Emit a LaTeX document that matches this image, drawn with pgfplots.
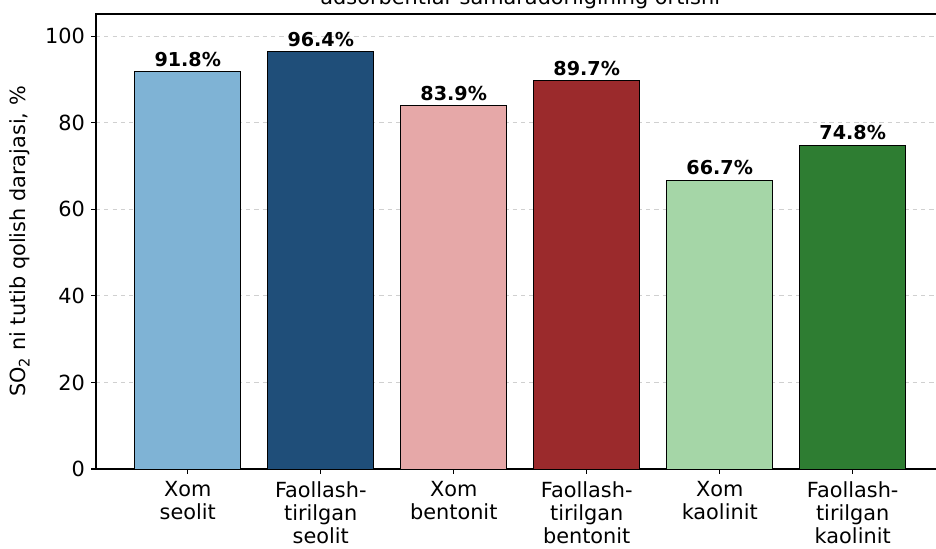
\documentclass[border=0pt]{standalone}
\usepackage{fontspec}
\setmainfont{DejaVu Sans}
\usepackage{pgfplots}
\pgfplotsset{compat=1.18}
\definecolor{c1}{HTML}{7FB3D5}
\definecolor{c2}{HTML}{1F4E79}
\definecolor{c3}{HTML}{E6A8A8}
\definecolor{c4}{HTML}{9B2A2C}
\definecolor{c5}{HTML}{A5D6A7}
\definecolor{c6}{HTML}{2E7D32}
\definecolor{gridc}{HTML}{D0D0D0}
\begin{document}
\begin{tikzpicture}
\begin{axis}[
  name=ax,
  scale only axis,
  width=610.9pt, height=327.6pt,
  xmin=-0.69, xmax=5.69,
  ymin=0, ymax=105.1,
  ytick={0,20,40,60,80,100},
  xtick={0,1,2,3,4,5},
  xticklabels={{Xom\\seolit},{Faollash-\\tirilgan\\seolit},{Xom\\bentonit},{Faollash-\\tirilgan\\bentonit},{Xom\\kaolinit},{Faollash-\\tirilgan\\kaolinit}},
  xticklabel style={align=center, font=\fontsize{15pt}{16.6pt}\selectfont, anchor=north, yshift=-2pt},
  yticklabel style={font=\fontsize{15pt}{17pt}\selectfont, xshift=-1pt},
  /pgf/number format/assume math mode=true,
  tick align=outside,
  major tick length=3.5pt,
  tick style={black, line width=0.8pt},
  axis line style={line width=0.8pt},
  xtick pos=bottom, ytick pos=left,
  ymajorgrids,
  grid style={dashed, gridc, line width=0.6pt},
  ylabel={SO\textsubscript{2} ni tutib qolish darajasi, \%},
  every axis y label/.style={at={([xshift=-54.7pt]axis description cs:0,0.5)}, rotate=90, anchor=center, font=\fontsize{15pt}{17pt}\selectfont},
  ybar, bar width=0.8, bar shift=0pt,
  every axis plot/.append style={draw=black, line width=0.72pt},
  nodes near coords={\pgfmathprintnumber[fixed,fixed zerofill,precision=1]{\pgfplotspointmeta}\%},
  nodes near coords style={font=\fontsize{13.8pt}{15pt}\selectfont\bfseries, anchor=south, inner sep=3.3pt, black},
]
\addplot[fill=c1] coordinates {(0,91.8)};
\addplot[fill=c2] coordinates {(1,96.4)};
\addplot[fill=c3] coordinates {(2,83.9)};
\addplot[fill=c4] coordinates {(3,89.7)};
\addplot[fill=c5] coordinates {(4,66.7)};
\addplot[fill=c6] coordinates {(5,74.8)};
\end{axis}
\node[anchor=base, font=\fontsize{15pt}{17pt}\selectfont, inner sep=0pt] at ([yshift=7pt]ax.north) {adsorbentlar samaradorligining ortishi};
\pgfresetboundingbox
\useasboundingbox (-69.12pt,-56.88pt) rectangle (604.8pt,337.68pt);
\end{tikzpicture}
\end{document}
